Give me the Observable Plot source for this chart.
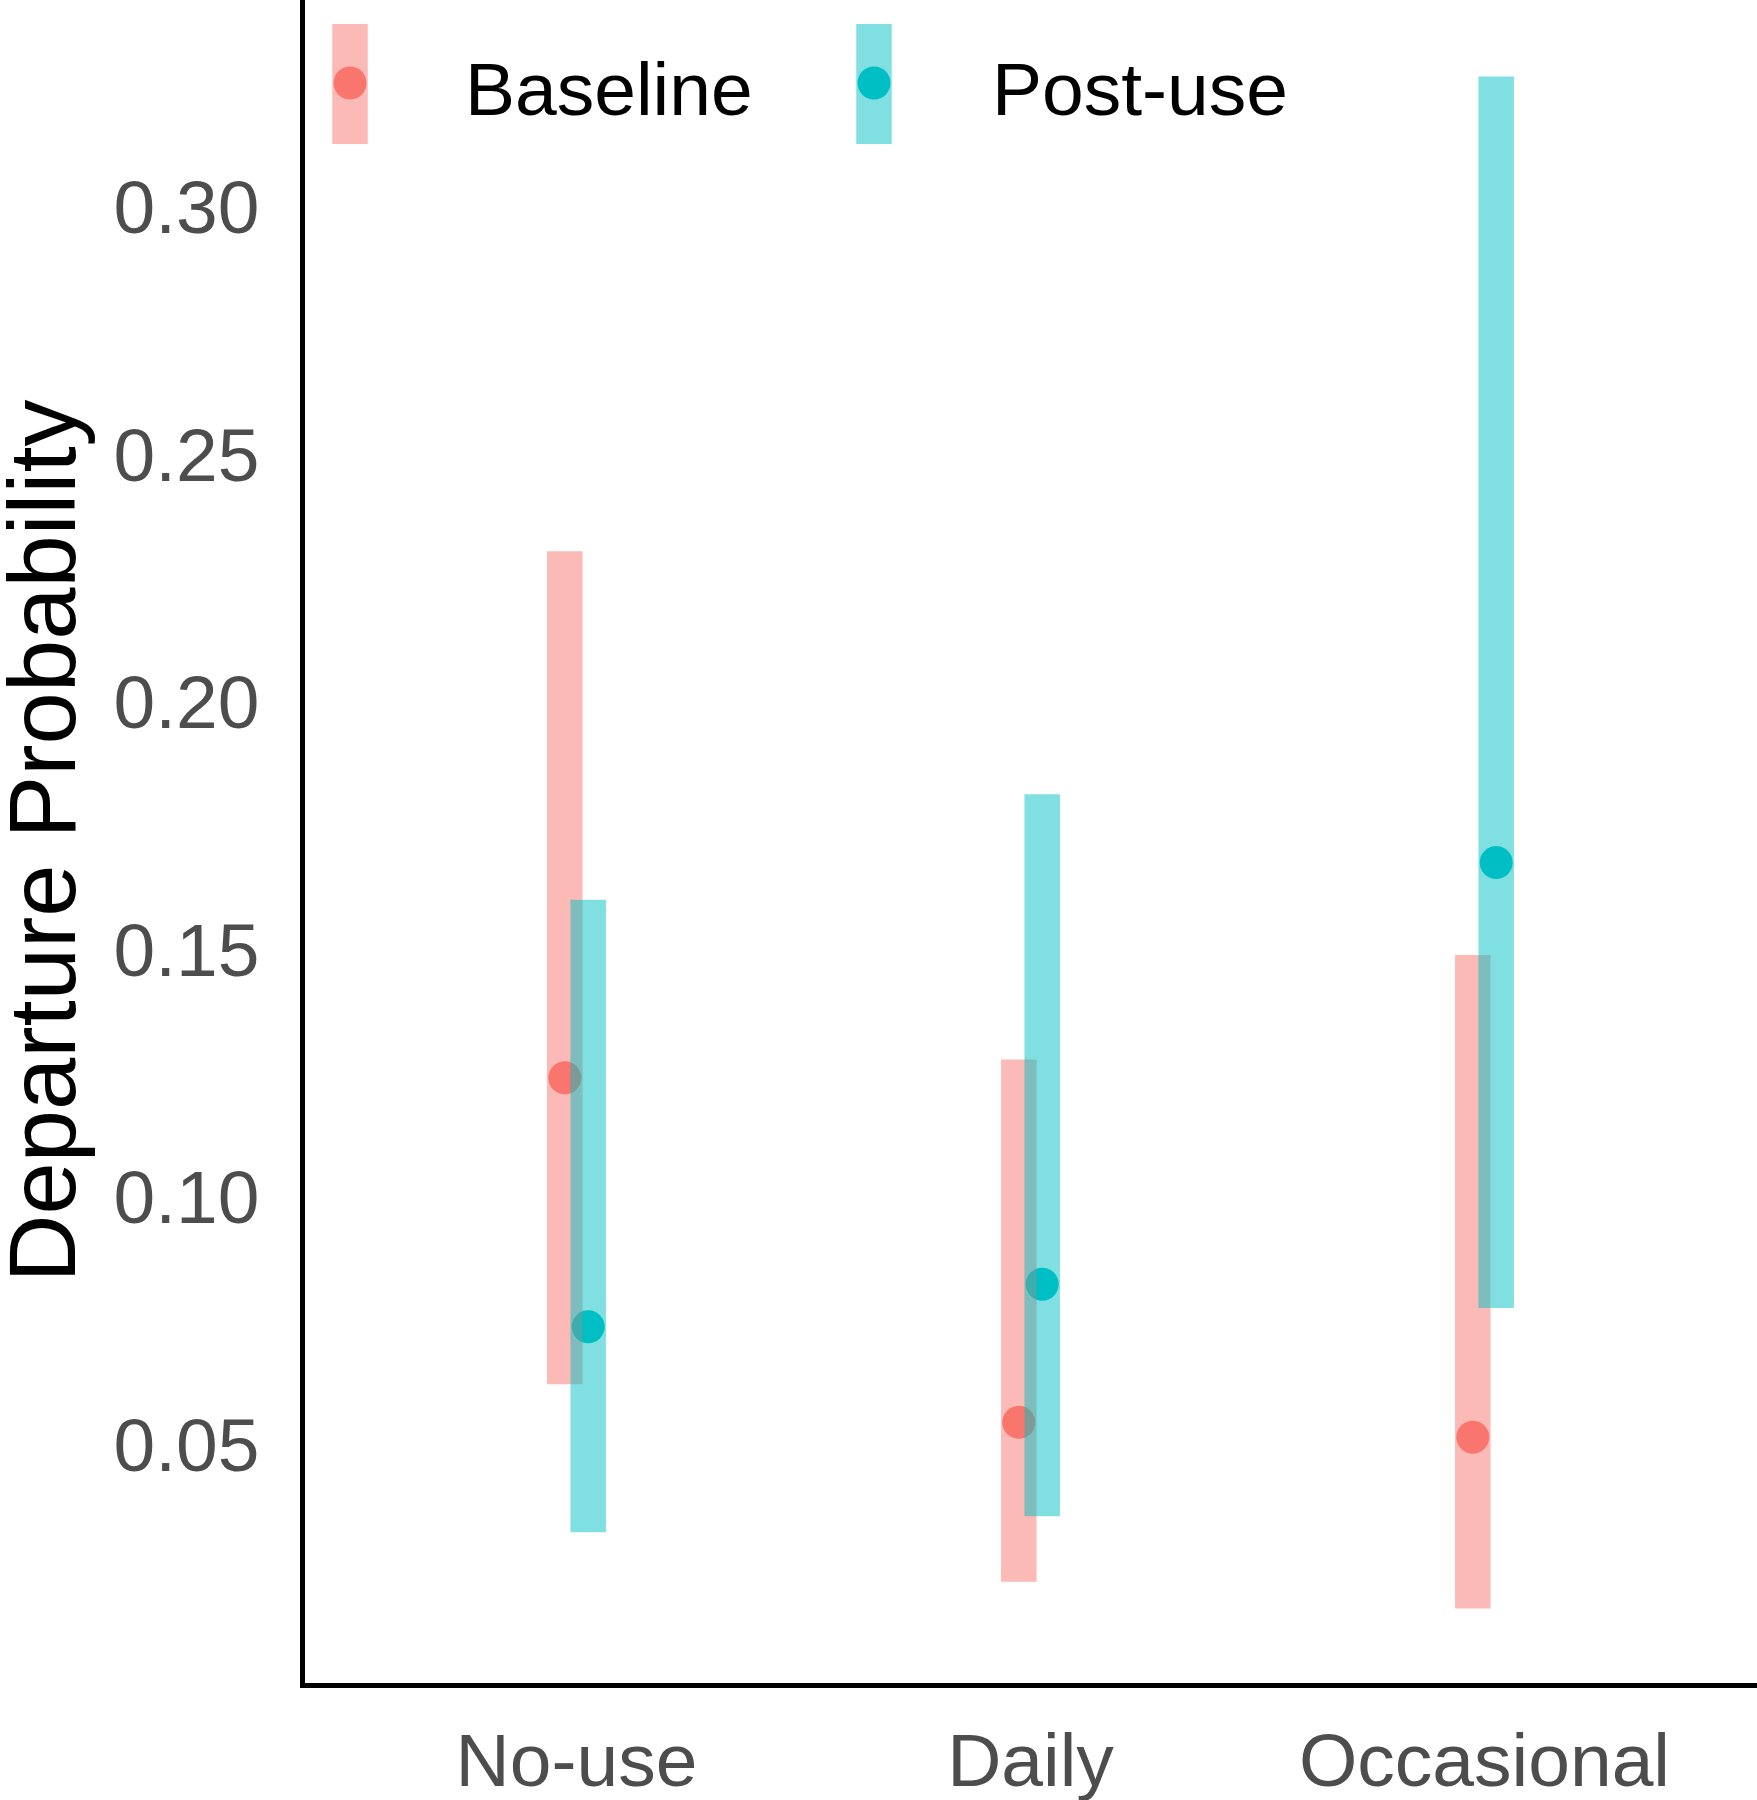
<!DOCTYPE html>
<html><head><meta charset="utf-8">
<script src="https://cdn.jsdelivr.net/npm/d3@7"></script>
<script src="https://cdn.jsdelivr.net/npm/@observablehq/plot@0.6"></script>
<style>
body{margin:0;background:#fff}
#wrap{position:relative;width:1757px;height:1800px;font-family:'Liberation Sans',Arial,sans-serif}
#legend{position:absolute;left:0;top:0;pointer-events:none;overflow:visible}
</style>
</head><body><div id="wrap"></div>
<script>
// ---- data ----
const groups = ["No-use", "Daily", "Occasional"];
const series = ["Baseline", "Post-use"];
const baselineMean = [0.1245, 0.0549, 0.0519];
const baselineLow  = [0.0625, 0.0226, 0.0172];
const baselineHigh = [0.2308, 0.1281, 0.1492];
const postMean = [0.0742, 0.0828, 0.1680];
const postLow  = [0.0326, 0.0358, 0.0779];
const postHigh = [0.1604, 0.1817, 0.3267];
const yTicks = [0.05, 0.10, 0.15, 0.20, 0.25, 0.30];
const yTitle = "Departure Probability";
const colors = ["#F8766D", "#00BFC4"];

// ---- table ----
const base = groups.map((g, i) => ({group: g, series: series[0], mean: baselineMean[i], low: baselineLow[i], high: baselineHigh[i]}));
const post = groups.map((g, i) => ({group: g, series: series[1], mean: postMean[i], low: postLow[i], high: postHigh[i]}));
const [lo, hi] = d3.extent([...base, ...post].flatMap(d => [d.low, d.high]));
const pad = (hi - lo) * 0.05;

const DODGE = 11.7, BAR = 35.5, R = 16.5, FS = 75;

const chart = Plot.plot({
  width: 1757, height: 1800,
  marginLeft: 302, marginRight: 0, marginTop: 0, marginBottom: 115,
  style: {fontFamily: "'Liberation Sans', Arial, sans-serif", background: "#fff", overflow: "visible"},
  x: {type: "point", domain: groups, padding: 0.6, axis: null},
  y: {domain: [lo - pad, hi + pad], axis: null},
  marks: [
    Plot.dot(base, {x: "group", y: "mean", dx: -DODGE, r: R, fill: colors[0]}),
    Plot.dot(post, {x: "group", y: "mean", dx: DODGE, r: R, fill: colors[1]}),
    Plot.ruleX(base, {x: "group", y1: "low", y2: "high", dx: -DODGE, stroke: colors[0], strokeWidth: BAR, strokeOpacity: 0.5}),
    Plot.ruleX(post, {x: "group", y1: "low", y2: "high", dx: DODGE, stroke: colors[1], strokeWidth: BAR, strokeOpacity: 0.5}),
    Plot.axisY(yTicks, {tickSize: 0, tickPadding: 43, fontSize: FS, color: "#4D4D4D", label: null, tickFormat: d3.format(".2f")}),
    Plot.axisX({tickSize: 0, tickPadding: 47, fontSize: FS, color: "#4D4D4D", label: null}),
    Plot.frame({anchor: "left", stroke: "#000", strokeWidth: 5}),
    Plot.frame({anchor: "bottom", stroke: "#000", strokeWidth: 5})
  ]
});
const wrap = document.getElementById("wrap");
wrap.appendChild(chart);

// ---- overlay: legend inside panel top + y-axis title ----
const keyX = [350, 874], textX = [465, 992];
const lg = d3.select(wrap).append("svg").attr("id", "legend").attr("width", 1757).attr("height", 1800);
series.forEach((s, i) => {
  lg.append("circle").attr("cx", keyX[i]).attr("cy", 83).attr("r", R).attr("fill", colors[i]);
  lg.append("rect").attr("x", keyX[i] - BAR / 2).attr("y", 24).attr("width", BAR).attr("height", 120)
    .attr("fill", colors[i]).attr("fill-opacity", 0.5);
  lg.append("text").attr("x", textX[i]).attr("y", 115).attr("font-size", 75)
    .attr("font-family", "'Liberation Sans', Arial, sans-serif").attr("fill", "#000").text(s);
});
lg.append("text")
  .attr("transform", "translate(75,841) rotate(-90)")
  .attr("text-anchor", "middle")
  .attr("font-size", 94)
  .attr("font-family", "'Liberation Sans', Arial, sans-serif")
  .attr("fill", "#000")
  .text(yTitle);
</script>
</body></html>
